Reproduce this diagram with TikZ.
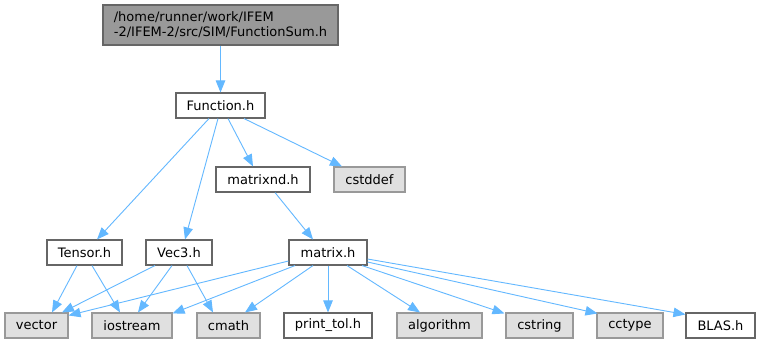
\documentclass[tikz,border=0pt]{standalone}
\usepackage{fontspec}
\setmainfont{DejaVu Sans}
\usetikzlibrary{arrows.meta}
\definecolor{edgecol}{HTML}{63B8FF}
\definecolor{wborder}{HTML}{666666}
\definecolor{gborder}{HTML}{999999}
\definecolor{gfill}{HTML}{E0E0E0}
\definecolor{topfill}{HTML}{999999}
\begin{document}
\begin{tikzpicture}[x=1pt,y=-1pt,
  every node/.style={font=\fontsize{13}{15}\selectfont, inner sep=0pt, minimum height=25pt, line width=1.1pt},
  whitebox/.style={draw=wborder, fill=white},
  graybox/.style={draw=gborder, fill=gfill},
  topbox/.style={draw=wborder, fill=topfill, align=left},
  edge/.style={draw=edgecol, line width=0.9pt, -{Triangle[length=12pt,width=9.5pt]}}]
\useasboundingbox (0,0) rectangle (760,344);
\fill[white] (0,0) rectangle (760,344);
% nodes
\node[topbox, minimum width=235pt, minimum height=40pt] (top) at (220.5,25) {/home/runner/work/IFEM\\-2/IFEM-2/src/SIM/FunctionSum.h};
\node[whitebox, minimum width=89pt] (fn) at (220.5,105.5) {Function.h};
\node[whitebox, minimum width=94pt] (mnd) at (263,179.5) {matrixnd.h};
\node[graybox, minimum width=71pt] (cstddef) at (369.5,179.5) {cstddef};
\node[whitebox, minimum width=75pt] (tensor) at (84.5,252.5) {Tensor.h};
\node[whitebox, minimum width=66pt] (vec3) at (179,252.5) {Vec3.h};
\node[whitebox, minimum width=78pt] (matrix) at (328,252.5) {matrix.h};
\node[graybox, minimum width=63pt] (vector) at (36.5,325.5) {vector};
\node[graybox, minimum width=80pt] (iostream) at (132,325.5) {iostream};
\node[graybox, minimum width=63pt] (cmath) at (228.5,325.5) {cmath};
\node[whitebox, minimum width=88pt] (ptol) at (328,325.5) {print\_tol.h};
\node[graybox, minimum width=85pt] (algorithm) at (439.5,325.5) {algorithm};
\node[graybox, minimum width=67pt] (cstring) at (539.5,325.5) {cstring};
\node[graybox, minimum width=66pt] (cctype) at (630,325.5) {cctype};
\node[whitebox, minimum width=69pt] (blas) at (720.5,325.5) {BLAS.h};
% edges
\draw[edge] (top.south) -- (fn.north);
\draw[edge] ([xshift=-11.5pt]fn.south) -- ([xshift=12.5pt]tensor.north);
\draw[edge] ([xshift=-2.5pt]fn.south) -- ([xshift=6pt]vec3.north);
\draw[edge] ([xshift=7.5pt]fn.south) -- ([xshift=-10pt]mnd.north);
\draw[edge] ([xshift=23.5pt]fn.south) -- ([xshift=-27.5pt]cstddef.north);
\draw[edge] ([xshift=12pt]mnd.south) -- ([xshift=-15pt]matrix.north);
\draw[edge] ([xshift=-7.5pt]tensor.south) -- ([xshift=15.5pt]vector.north);
\draw[edge] ([xshift=7.5pt]tensor.south) -- ([xshift=-12pt]iostream.north);
\draw[edge] ([xshift=-24pt]vec3.south) -- ([xshift=25.5pt]vector.north);
\draw[edge] ([xshift=-7pt]vec3.south) -- ([xshift=6pt]iostream.north);
\draw[edge] ([xshift=8pt]vec3.south) -- ([xshift=-15.5pt]cmath.north);
\draw[edge] ([yshift=-8.5pt]matrix.west) -- ([yshift=-3pt]vector.north east);
\draw[edge] ([xshift=-33pt]matrix.south) -- ([yshift=-1pt]iostream.north east);
\draw[edge] ([xshift=-15pt]matrix.south) -- ([xshift=16.5pt]cmath.north);
\draw[edge] (matrix.south) -- (ptol.north);
\draw[edge] ([xshift=19pt]matrix.south) -- ([xshift=-19.5pt]algorithm.north);
\draw[edge] ([xshift=34pt]matrix.south) -- ([xshift=-1pt,yshift=-1pt]cstring.north west);
\draw[edge] ([yshift=-9.5pt]matrix.east) -- ([xshift=1pt,yshift=-1pt]cctype.north west);
\draw[edge] ([yshift=-6.5pt]matrix.east) -- ([yshift=-2pt]blas.north west);
\end{tikzpicture}
\end{document}
